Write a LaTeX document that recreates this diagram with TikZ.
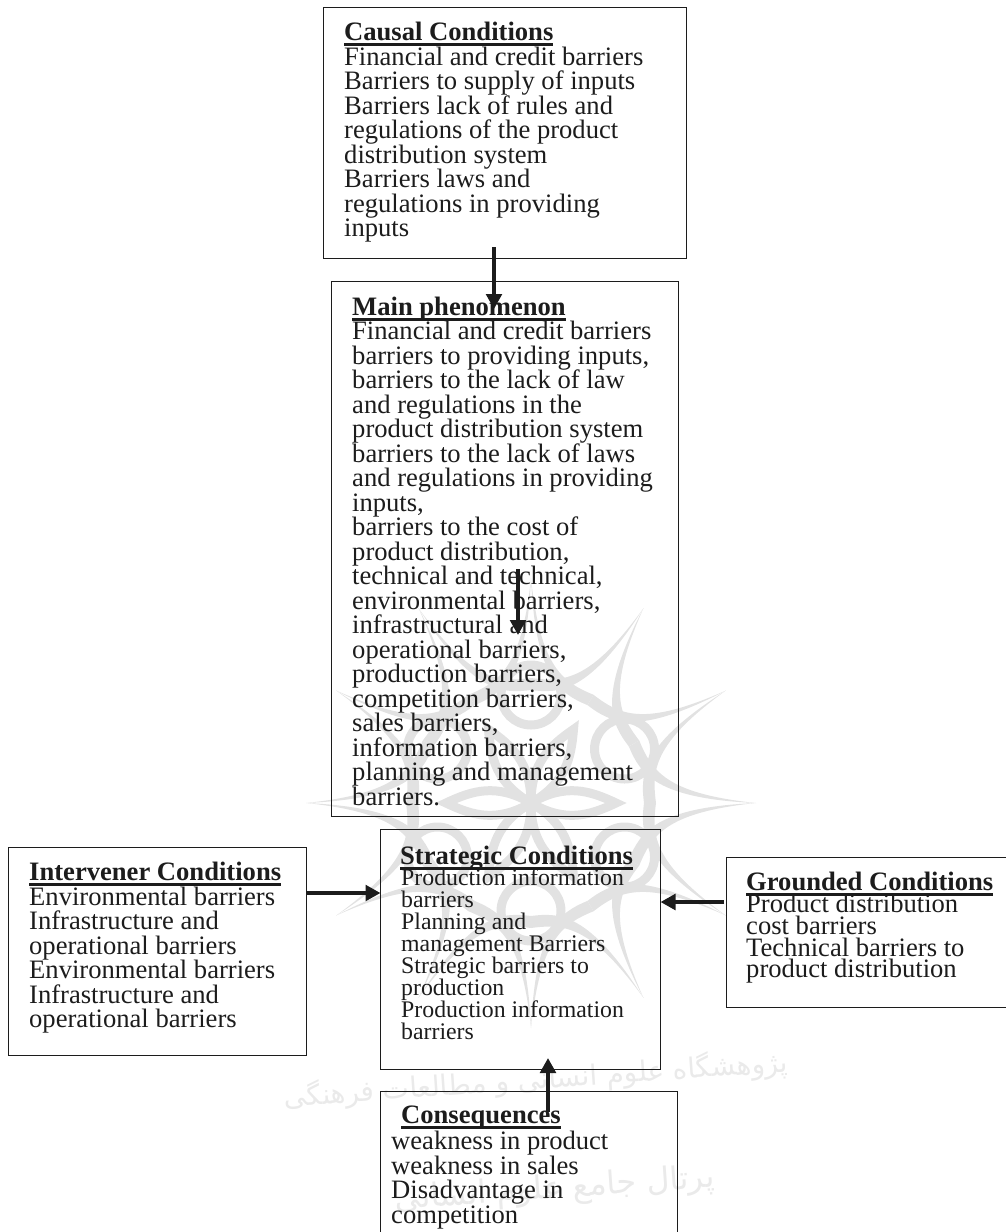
\documentclass[tikz,border=0pt]{standalone}
\usepackage{fontspec}
\setmainfont{Liberation Serif}
\newfontfamily\arabicfont[Script=Arabic]{DejaVu Sans}
\TeXXeTstate=1
\usetikzlibrary{arrows.meta}
\definecolor{ink}{HTML}{1C1C1C}
\definecolor{wm}{HTML}{E2E2E2}
\definecolor{wmt}{HTML}{EAEAEA}
\newcommand{\hd}[1]{\setbox0=\hbox{\textbf{#1}}\leavevmode\copy0\kern-\wd0\smash{\vrule width\wd0 height -2.6pt depth 5.4pt}}
\tikzset{
 boxn/.style={draw=ink,line width=0.9pt,fill=none},
 txt/.style={anchor=north west,inner sep=0pt,align=left,text=ink,font=\fontsize{26.6}{24.5}\selectfont},
 txtg/.style={anchor=north west,inner sep=0pt,align=left,text=ink,font=\fontsize{26.6}{21.8}\selectfont},
 txts/.style={anchor=north west,inner sep=0pt,align=left,text=ink,font=\fontsize{23.8}{22}\selectfont},
 arr/.style={draw=ink,line width=4pt,-{Stealth[length=15pt,width=15.5pt,inset=0pt]}},
 wmline/.style={draw=wm,line width=9pt,line cap=round},
 wmtext/.style={inner sep=0pt,text=wmt}
}
\begin{document}
\begin{tikzpicture}[x=1pt,y=-1pt]
\useasboundingbox (0,0) rectangle (1006,1232);
% watermark
\begin{scope}[shift={(531,803)}]
\foreach \a in {0,30,...,330}{
 \fill[wm] ({225*cos(\a)},{-225*sin(\a)}) .. controls ({135*cos(\a+4)},{-135*sin(\a+4)}) and ({125*cos(\a+15)},{-125*sin(\a+15)}) .. ({125*cos(\a+30)},{-125*sin(\a+30)}) -- ({113*cos(\a+30)},{-113*sin(\a+30)}) .. controls ({113*cos(\a+15)},{-113*sin(\a+15)}) and ({125*cos(\a+2)},{-125*sin(\a+2)}) .. cycle;
 \fill[wm] ({225*cos(\a)},{-225*sin(\a)}) .. controls ({135*cos(\a-4)},{-135*sin(\a-4)}) and ({125*cos(\a-15)},{-125*sin(\a-15)}) .. ({125*cos(\a-30)},{-125*sin(\a-30)}) -- ({113*cos(\a-30)},{-113*sin(\a-30)}) .. controls ({113*cos(\a-15)},{-113*sin(\a-15)}) and ({125*cos(\a-2)},{-125*sin(\a-2)}) .. cycle;
}
\foreach \a in {30,90,150,210,270,330}{
 \draw[wmline] ({108*cos(\a)},{-108*sin(\a)}) circle[radius=30];
}
\foreach \a in {0,60,...,300}{
 \draw[wmline] (0,0) .. controls ({40*cos(\a+30)},{-40*sin(\a+30)}) and ({60*cos(\a+12)},{-60*sin(\a+12)}) .. ({85*cos(\a)},{-85*sin(\a)}) .. controls ({60*cos(\a-12)},{-60*sin(\a-12)}) and ({40*cos(\a-30)},{-40*sin(\a-30)}) .. (0,0);
}
\end{scope}
\node[wmtext,rotate=4,font=\arabicfont\fontsize{28}{32}\selectfont] (w1) at (536,1080) {\beginR پژوهشگاه علوم انسانی و مطالعات فرهنگی\endR};
\node[wmtext,rotate=4,font=\arabicfont\fontsize{32}{36}\selectfont] (w2) at (555,1190) {\beginR پرتال جامع علوم انسانی\endR};
% boxes
\draw[boxn] (323,7) rectangle (686,258);
\draw[boxn] (331,281) rectangle (678,816);
\draw[boxn] (380.5,829) rectangle (660.5,1069);
\draw[boxn] (8,847) rectangle (306,1055);
\draw[boxn] (726,857) rectangle (1010,1007);
\draw[boxn] (380.5,1091) rectangle (677,1240);
\node[txt] (t1) at (344,22) {\hd{Causal Conditions}\\Financial and credit barriers\\Barriers to supply of inputs\\Barriers lack of rules and\\regulations of the product\\distribution system\\Barriers laws and\\regulations in providing\\inputs};
\node[txt] (t2) at (352,296.5) {\hd{Main phenomenon}\\Financial and credit barriers\\barriers to providing inputs,\\barriers to the lack of law\\and regulations in the\\product distribution system\\barriers to the lack of laws\\and regulations in providing\\inputs,\\barriers to the cost of\\product distribution,\\technical and technical,\\environmental barriers,\\infrastructural and\\operational barriers,\\production barriers,\\competition barriers,\\sales barriers,\\information barriers,\\planning and management\\barriers.};
\node[txt] (t3a) at (400,846) {\hd{Strategic Conditions}};
\node[txts] (t3) at (401,869) {Production information\\barriers\\Planning and\\management Barriers\\Strategic barriers to\\production\\Production information\\barriers};
\node[txt] (t4) at (29,862) {\hd{Intervener Conditions}\\Environmental barriers\\Infrastructure and\\operational barriers\\Environmental barriers\\Infrastructure and\\operational barriers};
\node[txtg] (t5) at (746,872) {\hd{Grounded Conditions}\\Product distribution\\cost barriers\\Technical barriers to\\product distribution};
\node[txt] (t6a) at (401,1106) {\hd{Consequences}};
\node[txt] (t6) at (391,1131) {weakness in product\\weakness in sales\\Disadvantage in\\competition};
\coordinate (a1s) at (494,247); \coordinate (a1e) at (494,309);
\coordinate (a2s) at (518,569); \coordinate (a2e) at (518,635);
\coordinate (a3s) at (306,893); \coordinate (a3e) at (380.5,893);
\coordinate (a4s) at (724,902); \coordinate (a4e) at (660.5,902);
\coordinate (a5s) at (548,1112); \coordinate (a5e) at (548,1058);
\draw[arr] (a1s) -- (a1e);
\draw[arr] (a2s) -- (a2e);
\draw[arr] (a3s) -- (a3e);
\draw[arr] (a4s) -- (a4e);
\draw[arr] (a5s) -- (a5e);
\end{tikzpicture}
\end{document}
